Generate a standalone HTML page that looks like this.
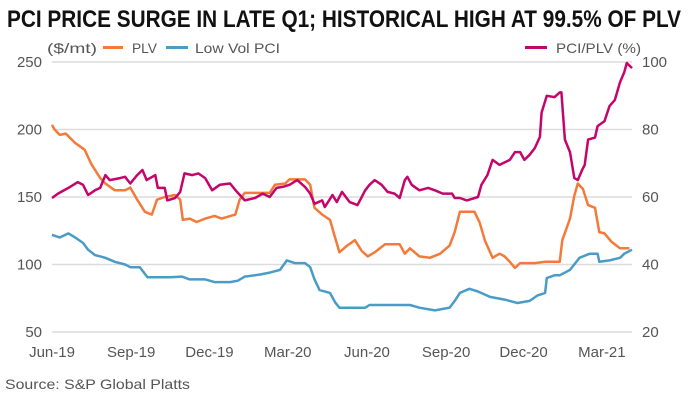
<!DOCTYPE html>
<html><head><meta charset="utf-8"><style>
body{margin:0;background:#fff;}
svg{display:block;font-family:"Liberation Sans Narrow","Liberation Sans",sans-serif;}
</style></head><body>
<svg width="694" height="401" viewBox="0 0 694 401">
<text x="7" y="27" font-size="24" font-weight="bold" fill="#111" textLength="674" lengthAdjust="spacingAndGlyphs">PCI PRICE SURGE IN LATE Q1; HISTORICAL HIGH AT 99.5% OF PLV</text>
<g font-size="14" fill="#555">
<text x="47" y="53" textLength="50" lengthAdjust="spacingAndGlyphs">($/mt)</text>
<rect x="103" y="46" width="20" height="3" fill="#f47a3a"/>
<text x="132" y="53" textLength="25" lengthAdjust="spacingAndGlyphs">PLV</text>
<rect x="166" y="46" width="22" height="3" fill="#4a9cc7"/>
<text x="195" y="53" textLength="85" lengthAdjust="spacingAndGlyphs">Low Vol PCI</text>
<rect x="525" y="46" width="22" height="3" fill="#c4056b"/>
<text x="556" y="53" textLength="85" lengthAdjust="spacingAndGlyphs">PCI/PLV (%)</text>
</g>
<g id="grid"></g>
<g id="yl" font-size="15" fill="#555" text-anchor="end"></g>
<g id="yr" font-size="15" fill="#555"></g>
<g id="xa" font-size="15" fill="#555" text-anchor="middle"></g>
<g id="series"></g>
<text x="5" y="389" font-size="14" fill="#555" textLength="185" lengthAdjust="spacingAndGlyphs">Source: S&amp;P Global Platts</text>
</svg>
<script>
// days since 2019-06-01
const leftTicks=[50,100,150,200,250];
const rightTicks=[20,40,60,80,100];
const xTickLabels=["Jun-19","Sep-19","Dec-19","Mar-20","Jun-20","Sep-20","Dec-20","Mar-21"];
const xTickDays=[0,92,183,274,366,458,548,639];
const plvDays=[0,3,9,16,27,38,46,56,62,73,85,91,99,108,116,122,131,143,149,152,160,168,178,189,197,213,218,224,242,253,259,271,276,285,294,300,305,314,323,329,334,343,352,360,367,375,387,404,410,416,427,439,451,462,468,474,480,491,497,503,512,520,526,532,538,544,561,573,590,593,602,607,611,617,623,631,636,642,650,660,671];
const plvVals=[203.5,200,196,197,190,185,174,164,160,155,155,157,148,139,137,148,150,151.5,148,133,134,131.5,134,136,134,137,148,153,153,153,159,160,163,163,163,159,142,137,133,120,109,114,118,110,106,109,115,115,108,112,106,105,108,114,124,139,139,139,131,118,105,108,106,102,97.5,101,101,102,102,118,134,151,160,156,144,142,124,123,117,112,112];
const pciDays=[0,9,19,27,36,42,50,62,73,85,91,102,111,120,137,151,160,178,189,207,216,224,242,253,265,273,282,294,300,305,311,323,329,334,346,364,369,381,393,404,416,427,445,462,468,474,485,495,509,526,541,555,564,573,575,584,590,602,613,625,634,636,648,660,665,674];
const pciVals=[122,120,123,120,116,111,107,105,102,100,98,98,90.5,90.5,90.5,91,89,89,87,87,88,91,92.6,94,96,103,101,101,98,89,81,79,72,68,68,68,70,70,70,70,70,68,66,68,73,79,82,80,76,74,71.5,73,77,79,90,92,92,96,105,108,108,102,103,105,108,111];
const ratioDays=[0,7,19,30,36,42,50,56,62,67,79,85,91,99,105,110,120,123,131,134,143,149,154,163,170,178,186,195,207,215,224,236,245,253,261,268,276,285,294,300,305,314,317,326,331,337,346,355,364,369,375,383,390,398,404,410,413,418,427,437,445,454,465,468,474,482,495,499,506,512,520,532,538,544,549,555,561,567,569,575,584,590,592,596,602,607,611,616,619,623,631,634,642,648,654,660,665,668,674];
const ratioVals=[59.7,61,62.7,64.4,63.6,60.6,62,62.7,66.5,65,65.6,66,64,66.5,68,65,66.5,62.7,62.7,59,59.7,61.5,67,66.5,67,65.6,62,63.6,64,61.5,59,59.7,61,60,62.7,63,63.6,65,63,61,58,59,57,60.6,58.5,61.5,58.5,57.6,62,63.6,65,63.6,61.5,61,59.7,65,66,63.6,62,62.7,62,61,61,59.7,59.7,59,60,63.6,66.5,71,69.5,71,73.3,73.3,71,72.5,74.5,77.8,85,90,89.6,91,91,77,73.3,65.6,65,68,69.5,77,77.6,81,82.5,87,88.7,94,97,99.7,98.2];

const X0=52,X1=632,DMAX=674,Y0=62,Y1=332;
const xs=d=>X0+d*(X1-X0)/DMAX;
const yL=v=>Y1-(v-50)*(Y1-Y0)/200;
const yR=p=>Y1-(p-20)*(Y1-Y0)/80;
const NS="http://www.w3.org/2000/svg";
function mk(tag,attrs,parent){const e=document.createElementNS(NS,tag);for(const k in attrs)e.setAttribute(k,attrs[k]);parent.appendChild(e);return e;}
const grid=document.getElementById('grid'),yl=document.getElementById('yl'),yr=document.getElementById('yr'),xa=document.getElementById('xa'),ser=document.getElementById('series');
leftTicks.forEach(v=>{
  const l=mk('line',{x1:X0,x2:X1,y1:yL(v),y2:yL(v),stroke:'#dcdcdc','stroke-width':1.5},grid);
  
  
  const t=mk('text',{x:42,y:yL(v)+5},yl);t.textContent=v;
  
  
});
rightTicks.forEach(v=>{
  const t=mk('text',{x:642,y:yR(v)+5},yr);t.textContent=v;
  
  
});
xTickLabels.forEach((s,i)=>{
  const t=mk('text',{x:xs(xTickDays[i]),y:357},xa);t.textContent=s;
  
  
});
function line(days,vals,fy,color,name){
  const d=days.map((v,i)=>(i?'L':'M')+xs(v).toFixed(1)+','+fy(vals[i]).toFixed(1)).join('');
  const p=mk('path',{d:d,fill:'none',stroke:color,'stroke-width':2.5,'stroke-linejoin':'round'},ser);
  
  
}
line(pciDays,pciVals,yL,'#4a9cc7','line-low-vol-pci');
line(plvDays,plvVals,yL,'#f47a3a','line-plv');
line(ratioDays,ratioVals,yR,'#c4056b','line-pci-plv-ratio');
</script>
</body></html>
